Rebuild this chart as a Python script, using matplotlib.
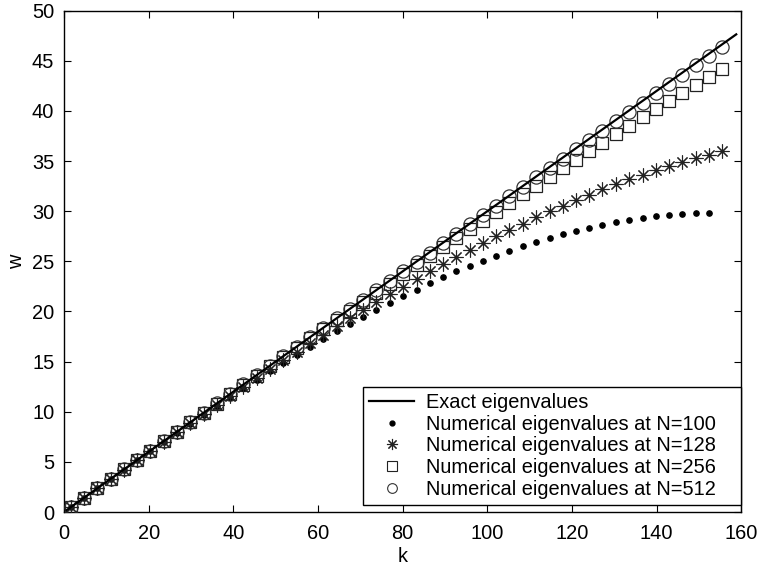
import matplotlib
matplotlib.use("Agg")
import matplotlib.pyplot as plt
from matplotlib.lines import Line2D

plt.rcParams['font.family'] = ['Liberation Sans', 'DejaVu Sans']

# ---- data ----
k_exact = [0.6, 158.8]
w_exact = [0.18, 47.64]

k_vals = [1.6, 4.7, 7.9, 11.0, 14.1, 17.3, 20.4, 23.6, 26.7, 29.8,
          33.0, 36.1, 39.3, 42.4, 45.6, 48.7, 51.8, 55.0, 58.1, 61.3,
          64.4, 67.5, 70.7, 73.8, 77.0, 80.1, 83.3, 86.4, 89.5, 92.7,
          95.8, 99.0, 102.1, 105.2, 108.4, 111.5, 114.7, 117.8, 121.0, 124.1,
          127.2, 130.4, 133.5, 136.7, 139.8, 142.9, 146.1, 149.2, 152.4, 155.5]

w_N100 = [0.47, 1.41, 2.35, 3.29, 4.23, 5.16, 6.08, 7.00, 7.92, 8.82,
          9.72, 10.60, 11.48, 12.35, 13.20, 14.04, 14.86, 15.67, 16.47, 17.25,
          18.01, 18.76, 19.48, 20.19, 20.88, 21.54, 22.19, 22.81, 23.41, 23.99,
          24.54, 25.07, 25.58, 26.06, 26.51, 26.94, 27.34, 27.72, 28.06, 28.36,
          28.64, 28.90, 29.12, 29.32, 29.48, 29.62, 29.72, 29.82, 29.86]

w_N128 = [0.47, 1.41, 2.35, 3.29, 4.23, 5.17, 6.10, 7.03, 7.95, 8.87,
          9.79, 10.69, 11.60, 12.49, 13.38, 14.26, 15.13, 15.99, 16.84, 17.68,
          18.52, 19.34, 20.14, 20.94, 21.72, 22.49, 23.25, 23.99, 24.72, 25.44,
          26.14, 26.82, 27.48, 28.13, 28.77, 29.38, 29.98, 30.56, 31.12, 31.66,
          32.19, 32.69, 33.18, 33.64, 34.09, 34.51, 34.91, 35.29, 35.65, 35.97]

w_N256 = [0.47, 1.41, 2.36, 3.30, 4.24, 5.18, 6.12, 7.06, 8.00, 8.94,
          9.87, 10.81, 11.74, 12.67, 13.60, 14.53, 15.46, 16.38, 17.31, 18.23,
          19.15, 20.06, 20.98, 21.89, 22.79, 23.70, 24.60, 25.50, 26.39, 27.29,
          28.18, 29.06, 29.94, 30.82, 31.69, 32.56, 33.42, 34.28, 35.14, 35.99,
          36.84, 37.68, 38.52, 39.35, 40.18, 41.00, 41.82, 42.63, 43.43, 44.21]

w_N512 = [0.47, 1.41, 2.36, 3.30, 4.24, 5.18, 6.13, 7.07, 8.01, 8.95,
          9.89, 10.84, 11.78, 12.72, 13.66, 14.60, 15.54, 16.48, 17.42, 18.36,
          19.30, 20.24, 21.18, 22.12, 23.06, 24.00, 24.94, 25.88, 26.82, 27.75,
          28.69, 29.63, 30.57, 31.50, 32.44, 33.37, 34.31, 35.24, 36.18, 37.11,
          38.04, 38.98, 39.91, 40.84, 41.77, 42.70, 43.63, 44.56, 45.49, 46.42]

labels = ['Exact eigenvalues',
          'Numerical eigenvalues at N=100',
          'Numerical eigenvalues at N=128',
          'Numerical eigenvalues at N=256',
          'Numerical eigenvalues at N=512']

x_ticks = [0, 20, 40, 60, 80, 100, 120, 140, 160]
y_ticks = [0, 5, 10, 15, 20, 25, 30, 35, 40, 45, 50]

FS = 14.4
fig = plt.figure(figsize=(7.61, 5.69), dpi=100)
ax = fig.add_axes([64/761, 1 - 512/569, (741.3 - 64)/761, (512 - 10.7)/569])

ax.plot(k_exact, w_exact, color='k', lw=1.6, zorder=5)
ax.plot(k_vals[:len(w_N100)], w_N100, ls='none', marker='o', ms=3.8,
        mfc='k', mec='k', zorder=4)
ax.plot(k_vals, w_N128, ls='none', marker=(8, 2, 0), ms=10, mec='#222222',
        mew=0.8, zorder=4)
ax.plot(k_vals, w_N256, ls='none', marker='s', ms=8, mfc='none',
        mec='#222222', mew=0.9, zorder=3)
ax.plot(k_vals, w_N512, ls='none', marker='o', ms=9.5, mfc='none',
        mec='#333333', mew=0.9, zorder=3)

ax.set_xlim(0, 160)
ax.set_ylim(0, 50)
ax.set_xticks(x_ticks)
ax.set_yticks(y_ticks)
ax.tick_params(direction='in', length=5, width=0.8, top=True, right=True,
               labelsize=FS, colors='k')
ax.tick_params(axis='x', pad=8.5)
ax.tick_params(axis='y', pad=7)
for s in ax.spines.values():
    s.set_linewidth(1.0)
    s.set_color('k')

ax.set_xlabel('k', fontsize=FS, labelpad=3)
ax.set_ylabel('w', fontsize=FS, labelpad=4)

handles = [
    Line2D([], [], color='k', lw=1.6),
    Line2D([], [], ls='none', marker='o', ms=3.5, mfc='k', mec='k'),
    Line2D([], [], ls='none', marker=(8, 2, 0), ms=8, mec='#222222', mew=0.8),
    Line2D([], [], ls='none', marker='s', ms=7, mfc='none', mec='#222222', mew=0.8),
    Line2D([], [], ls='none', marker='o', ms=7, mfc='none', mec='#333333', mew=0.8),
]
x0 = (363 - 64) / 677.3
leg = ax.legend(handles, labels, loc='lower left', mode='expand',
                bbox_to_anchor=(x0, 0.014, 1.0 - x0, 0.2), fontsize=FS,
                frameon=True, fancybox=False, edgecolor='k', framealpha=1,
                borderpad=0.3, labelspacing=0.14, handlelength=2.25,
                handletextpad=0.6, borderaxespad=0.0)
leg.get_frame().set_linewidth(1.0)

fig.savefig('out.png', dpi=100)
